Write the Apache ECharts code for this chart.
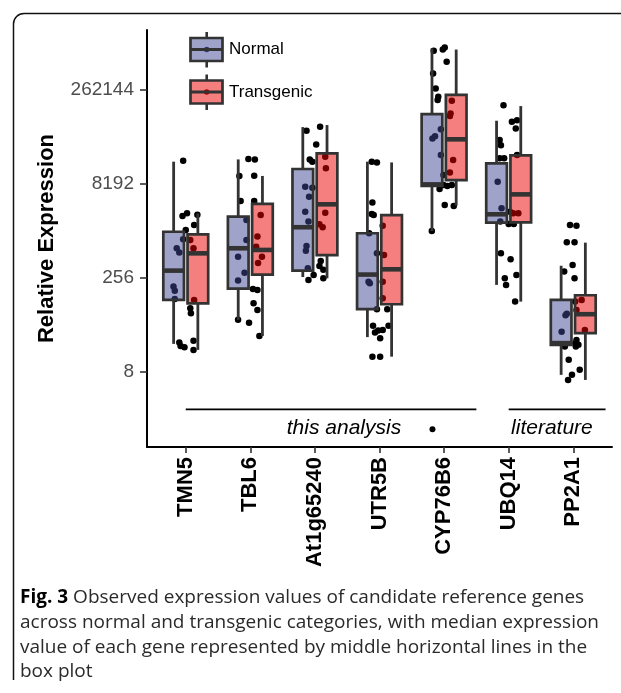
<!DOCTYPE html>
<html>
<head>
<meta charset="utf-8">
<script src="https://cdn.jsdelivr.net/npm/echarts@6/dist/echarts.min.js"></script>
<style>
html,body{margin:0;padding:0;background:#fff;}
#chart{width:621px;height:693px;}
</style>
</head>
<body>
<div id="chart"></div>
<script>
// ---------- DATA (values are log2 of relative expression) ----------
const genes = ['TMN5', 'TBL6', 'At1g65240', 'UTR5B', 'CYP76B6', 'UBQ14', 'PP2A1'];
const yTickValues = [8, 256, 8192, 262144];
const seriesNames = ['Normal', 'Transgenic'];

// [lower whisker, Q1, median, Q3, upper whisker] (log2)
const normalStats = [
  [4.49, 6.83, 8.39, 10.46, 14.19],
  [5.77, 7.43, 9.58, 11.26, 14.31],
  [8.05, 8.39, 10.70, 13.80, 16.03],
  [4.85, 6.34, 8.18, 10.38, 14.19],
  [10.50, 12.90, 12.98, 16.72, 20.22],
  [7.63, 10.94, 11.39, 14.10, 16.37],
  [2.84, 4.44, 4.53, 6.83, 8.65]
];
const transgenicStats = [
  [4.17, 6.65, 9.31, 10.32, 11.44],
  [4.91, 8.18, 9.49, 11.94, 13.43],
  [7.98, 9.21, 11.92, 14.63, 16.14],
  [3.81, 6.60, 8.46, 11.34, 14.15],
  [11.85, 13.21, 15.38, 17.75, 20.16],
  [6.74, 10.96, 12.45, 14.53, 17.15],
  [2.57, 5.06, 6.07, 7.08, 9.88]
];

// jittered observations per gene: [offset from gene position, log2 value]
const pointsTMN5 = [[-0.04,14.24],[-0.05,11.30],[0.02,11.44],[0.18,11.37],[0.13,10.82],[0,10.55],[0.07,10.02],[-0.04,10.06],[-0.14,9.58],[-0.10,9.35],[0.12,9.58],[-0.19,7.54],[-0.17,7.32],[-0.17,6.88],[0.13,6.83],[0.07,6.39],[0.08,6.12],[-0.10,4.56],[-0.08,4.38],[-0.02,4.31],[0.12,4.66],[0.12,4.17]];
const pointsTBL6 = [[-0.03,14.33],[0.07,14.31],[-0.17,13.43],[0.06,13.44],[-0.15,12.10],[0.06,12.10],[-0.06,11.09],[0.16,11.35],[0.11,10.20],[-0.06,10.02],[0.09,9.66],[-0.19,9.13],[0.18,9.13],[0.12,8.80],[-0.09,8.28],[-0.19,7.86],[0.04,7.41],[0.11,7.36],[0.05,6.65],[0.11,6.30],[-0.19,5.77],[-0.02,5.62],[0.14,4.91]];
const pointsAt1g65240 = [[-0.13,15.84],[0.08,16.05],[0.02,15.11],[-0.08,14.31],[-0.04,14.19],[0.16,14.45],[0.17,13.84],[-0.15,12.86],[-0.04,12.80],[-0.09,12.32],[0.16,11.47],[-0.15,11.53],[-0.10,11.0],[0.07,10.86],[0.12,10.70],[-0.13,9.70],[-0.14,9.45],[0.09,8.90],[0.07,8.64],[0.13,8.43],[-0.11,8.52],[-0.02,8.16],[-0.10,7.89],[0.13,7.98]];
const pointsUTR5B = [[-0.12,14.19],[-0.04,14.15],[-0.11,12.01],[-0.12,11.40],[-0.09,11.35],[0.05,10.78],[-0.16,10.38],[-0.04,9.31],[0.07,9.22],[-0.17,7.80],[-0.15,7.72],[0.05,7.80],[0.05,6.92],[-0.04,6.34],[0.12,6.34],[-0.10,5.45],[-0.02,5.20],[-0.07,5.09],[0.05,5.23],[0.01,4.79],[0.14,5.45],[-0.11,3.81],[0.01,3.81]];
const pointsCYP76B6 = [[-0.16,20.09],[-0.02,20.16],[0.01,20.27],[0.04,19.51],[-0.17,18.89],[-0.13,18.09],[-0.09,17.64],[-0.10,17.47],[0.12,17.43],[0.10,16.76],[0.09,16.62],[-0.05,15.91],[-0.14,15.55],[-0.18,15.43],[-0.05,14.54],[0.14,14.28],[0.09,13.62],[-0.01,13.48],[-0.07,12.73],[-0.01,12.95],[0.05,12.89],[0.12,12.95],[0.01,11.88],[0.15,11.83],[-0.19,10.50]];
const pointsUBQ14 = [[-0.08,17.20],[0.05,16.31],[0.13,16.40],[0.11,15.96],[-0.14,15.34],[-0.12,15.07],[-0.14,14.37],[-0.07,14.37],[0.13,14.54],[-0.17,13.12],[-0.11,11.71],[0.02,11.53],[0.07,11.44],[0.15,11.44],[-0.13,11.0],[0.00,10.87],[0.08,10.87],[-0.12,9.31],[0.03,9.0],[0.12,8.16],[-0.06,7.98],[-0.04,7.63],[0.10,6.74]];
const pointsPP2A1 = [[-0.05,10.82],[0.05,10.78],[-0.10,9.90],[0.02,9.90],[-0.01,8.69],[-0.14,8.34],[0.02,7.98],[-0.10,6.09],[-0.12,6.02],[-0.18,5.14],[0.03,6.74],[0.13,6.83],[0.05,6.30],[0.18,5.23],[0.05,4.70],[0.03,4.53],[0.08,4.44],[0.04,4.35],[-0.13,4.35],[-0.07,3.64],[0.10,3.11],[-0.02,2.84],[-0.08,2.57]];
const pointsByGene = [pointsTMN5, pointsTBL6, pointsAt1g65240, pointsUTR5B, pointsCYP76B6, pointsUBQ14, pointsPP2A1];

// group annotations: [x start, x end, log2 y]
const groupSegments = [[0, 4.5, 1], [5, 6.5, 1]];
// [label, x, log2 y]
const groupLabels = [['this analysis', 2.45, 0], ['literature', 5.67, 0]];
const strayPoints = [[3.82, -0.05]];

const captionLines = [
  'Observed expression values of candidate reference genes',
  'across normal and transgenic categories, with median expression',
  'value of each gene represented by middle horizontal lines in the',
  'box plot'
];

// ---------- CHART ----------
const FONT = '"Liberation Sans", Arial, Helvetica, sans-serif';
const CAP_FONT = '"Open Sans", sans-serif';
const FILL_N = 'rgba(64,72,150,0.5)';
const FILL_T = 'rgba(235,0,0,0.5)';
const EDGE = '#333333';
const DODGE = 0.1875;
const BOX_W = 0.32;

function boxRenderer(offset, fill) {
  return function (params, api) {
    const i = api.value(0);
    const lo = api.coord([i + offset, api.value(1)]);
    const q1 = api.coord([i + offset, api.value(2)]);
    const md = api.coord([i + offset, api.value(3)]);
    const q3 = api.coord([i + offset, api.value(4)]);
    const hi = api.coord([i + offset, api.value(5)]);
    const w = api.size([1, 0])[0] * BOX_W;
    const x = md[0];
    return {
      type: 'group',
      children: [
        { type: 'line', shape: { x1: x, y1: hi[1], x2: x, y2: q3[1] }, style: { stroke: EDGE, lineWidth: 2.8 } },
        { type: 'line', shape: { x1: x, y1: q1[1], x2: x, y2: lo[1] }, style: { stroke: EDGE, lineWidth: 2.8 } },
        { type: 'rect', shape: { x: x - w / 2, y: q3[1], width: w, height: q1[1] - q3[1] }, style: { fill: fill, stroke: EDGE, lineWidth: 2.7 } },
        { type: 'line', shape: { x1: x - w / 2, y1: md[1], x2: x + w / 2, y2: md[1] }, style: { stroke: EDGE, lineWidth: 4.6 } }
      ]
    };
  };
}

const scatterData = [];
pointsByGene.forEach((pts, i) => pts.forEach(p => scatterData.push([i + p[0], p[1]])));

const chart = echarts.init(document.getElementById('chart'), null, { renderer: 'canvas' });

const geneIdx = genes.map((g, i) => i);

function legendKey(y0, fill, dot, label) {
  const cx = 206.7, top = y0 - 11.5, h = 23;
  return [
    { type: 'line', shape: { x1: cx, y1: top - 6, x2: cx, y2: top }, style: { stroke: EDGE, lineWidth: 2.6 } },
    { type: 'line', shape: { x1: cx, y1: top + h, x2: cx, y2: top + h + 6.5 }, style: { stroke: EDGE, lineWidth: 2.6 } },
    { type: 'circle', shape: { cx: cx, cy: y0, r: 2.8 }, style: { fill: dot } },
    { type: 'rect', shape: { x: 190.5, y: top, width: 32, height: h }, style: { fill: fill, stroke: EDGE, lineWidth: 2.7 } },
    { type: 'line', shape: { x1: 190.5, y1: y0, x2: 222.5, y2: y0 }, style: { stroke: EDGE, lineWidth: 2.8 } },
    { type: 'text', x: 229, y: y0, style: { text: label, fill: '#000', font: '17px ' + FONT, verticalAlign: 'middle', align: 'left' } }
  ];
}

const graphics = [
  { type: 'line', shape: { x1: 13.5, y1: 680, x2: 13.5, y2: 24 }, style: { stroke: '#111', lineWidth: 1.5 } },
  { type: 'arc', shape: { cx: 24, cy: 24, r: 10.5, startAngle: Math.PI, endAngle: Math.PI * 1.5 }, style: { stroke: '#111', lineWidth: 1.5, fill: null } },
  { type: 'line', shape: { x1: 24, y1: 13.5, x2: 621, y2: 13.5 }, style: { stroke: '#111', lineWidth: 1.5 } },
  ...legendKey(49.5, FILL_N, '#20244f', seriesNames[0]),
  ...legendKey(92, FILL_T, '#780000', seriesNames[1])
];
captionLines.forEach((line, k) => {
  graphics.push({
    type: 'text', x: 20, y: 598 + k * 24.6,
    style: {
      text: (k === 0 ? '{b|Fig. 3} ' : '') + line,
      fill: '#2a2a2a', font: '19px ' + CAP_FONT, verticalAlign: 'middle',
      rich: { b: { fontWeight: 'bold', fill: '#000', fontSize: 19, fontFamily: CAP_FONT } }
    }
  });
});

const option = {
  animation: false,
  backgroundColor: '#fff',
  grid: { left: 147, right: 9, top: 30, bottom: 246 },
  xAxis: {
    type: 'value', min: -0.6, max: 6.6,
    splitLine: { show: false },
    axisLine: { show: true, onZero: false, lineStyle: { color: '#000', width: 2 } },
    axisTick: { show: true, customValues: geneIdx, length: 6, lineStyle: { color: EDGE, width: 1.6 } },
    axisLabel: {
      customValues: geneIdx, rotate: 90, margin: 10,
      formatter: v => genes[Math.round(v)],
      color: '#000', fontSize: 22, fontWeight: 'bold', fontFamily: FONT
    }
  },
  yAxis: {
    type: 'value', min: -1, max: 21.2,
    name: 'Relative Expression', nameLocation: 'middle', nameRotate: 90, nameGap: 89,
    nameTextStyle: { color: '#000', fontSize: 22, fontWeight: 'bold', fontFamily: FONT },
    splitLine: { show: false },
    axisLine: { show: true, onZero: false, lineStyle: { color: '#000', width: 2 } },
    axisTick: { show: true, customValues: yTickValues.map(Math.log2), length: 7, lineStyle: { color: EDGE, width: 1.6 } },
    axisLabel: {
      customValues: yTickValues.map(Math.log2), margin: 13,
      formatter: v => String(Math.round(Math.pow(2, v))),
      color: '#4d4d4d', fontSize: 19, fontFamily: FONT
    }
  },
  series: [
    {
      type: 'scatter', name: 'points', z: 1,
      symbol: 'circle', symbolSize: 6.5,
      itemStyle: { color: '#000', opacity: 1 },
      data: scatterData
    },
    {
      type: 'custom', name: seriesNames[0], z: 2,
      renderItem: boxRenderer(-DODGE, FILL_N),
      encode: { x: 0, y: [1, 2, 3, 4, 5] },
      data: normalStats.map((s, i) => [i].concat(s))
    },
    {
      type: 'custom', name: seriesNames[1], z: 2,
      renderItem: boxRenderer(DODGE, FILL_T),
      encode: { x: 0, y: [1, 2, 3, 4, 5] },
      data: transgenicStats.map((s, i) => [i].concat(s))
    },
    {
      type: 'custom', name: 'groupLines', z: 3, clip: false,
      renderItem: function (params, api) {
        const a = api.coord([api.value(0), api.value(2)]);
        const b = api.coord([api.value(1), api.value(2)]);
        return { type: 'line', shape: { x1: a[0], y1: a[1], x2: b[0], y2: b[1] }, style: { stroke: '#000', lineWidth: 1.7 } };
      },
      encode: { x: [0, 1], y: 2 },
      data: groupSegments
    },
    {
      type: 'custom', name: 'groupLabels', z: 3, clip: false,
      renderItem: function (params, api) {
        const p = api.coord([api.value(1), api.value(2)]);
        return {
          type: 'text', x: p[0], y: p[1],
          style: { text: groupLabels[params.dataIndex][0], fill: '#000', font: 'italic 21px ' + FONT, align: 'center', verticalAlign: 'middle' }
        };
      },
      encode: { x: 1, y: 2 },
      data: groupLabels
    },
    {
      type: 'scatter', name: 'stray', z: 3,
      symbol: 'circle', symbolSize: 6,
      itemStyle: { color: '#000', opacity: 1 },
      data: strayPoints
    }
  ],
  graphic: graphics
};
chart.setOption(option);
</script>
</body>
</html>
